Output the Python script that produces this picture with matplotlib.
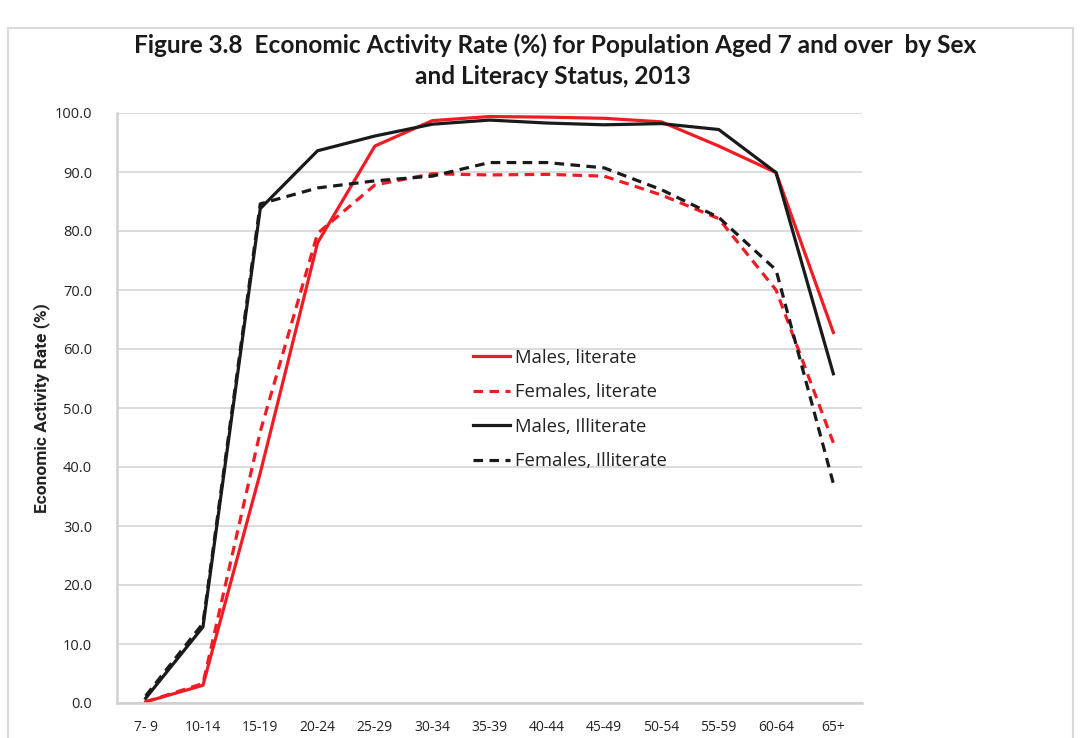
import matplotlib
matplotlib.use("Agg")
import matplotlib.pyplot as plt
from matplotlib.patches import Rectangle

# Age groups and economic activity rates (%)
age_groups = ["7- 9", "10-14", "15-19", "20-24", "25-29", "30-34", "35-39",
              "40-44", "45-49", "50-54", "55-59", "60-64", "65+"]
males_literate = [0.2, 3.0, 39.0, 78.0, 94.4, 98.7, 99.4, 99.3, 99.1, 98.5, 94.4, 89.9, 62.8]
females_literate = [0.2, 3.3, 46.0, 79.6, 87.8, 89.7, 89.5, 89.6, 89.3, 86.1, 82.1, 70.0, 44.1]
males_illiterate = [0.8, 12.9, 83.8, 93.6, 96.1, 98.1, 98.8, 98.3, 98.0, 98.2, 97.2, 89.9, 55.8]
females_illiterate = [1.2, 13.5, 84.6, 87.3, 88.5, 89.3, 91.6, 91.6, 90.7, 87.0, 82.3, 73.4, 37.2]
series_labels = ["Males, literate", "Females, literate", "Males, Illiterate", "Females, Illiterate"]
y_ticks = [0, 10, 20, 30, 40, 50, 60, 70, 80, 90, 100]

RED = "#ee1c25"
BLACK = "#1a1a1a"
GRID = "#d9d9d9"

fig = plt.figure(figsize=(10.83, 7.38), dpi=100)
fig.patch.set_facecolor("white")

# outer chart frame
fig.patches.append(Rectangle((8 / 1083, -0.05), (1073 - 8) / 1083, 1 - 28 / 738 + 0.05,
                             transform=fig.transFigure, fill=False,
                             edgecolor="#d9d9d9", linewidth=1.5))

ax = fig.add_axes([117 / 1083, 1 - 703 / 738, (862 - 117) / 1083, (703 - 113) / 738])
x = list(range(len(age_groups)))
lw = 2.3
ax.plot(x, males_literate, color=RED, lw=lw, label=series_labels[0])
ax.plot(x, females_literate, color=RED, lw=lw, ls=(0, (3, 2)), label=series_labels[1])
ax.plot(x, males_illiterate, color=BLACK, lw=lw, label=series_labels[2])
ax.plot(x, females_illiterate, color=BLACK, lw=lw, ls=(0, (3, 2)), label=series_labels[3])

ax.set_xlim(-0.5, len(age_groups) - 0.5)
ax.set_ylim(0, 100)
ax.set_yticks(y_ticks)
ax.set_yticklabels([f"{v:.1f}" for v in y_ticks], fontsize=10.5, color="#222222",
                   fontfamily=["Open Sans", "DejaVu Sans"])
ax.set_xticks(x)
ax.set_xticklabels(age_groups, fontsize=10, color="#222222",
                   fontfamily=["Open Sans", "DejaVu Sans"])
ax.tick_params(axis="both", length=0)
ax.tick_params(axis="y", pad=18)
ax.tick_params(axis="x", pad=12)
ax.grid(axis="y", color=GRID, lw=1.3)
ax.set_axisbelow(True)
for side in ("top", "right"):
    ax.spines[side].set_visible(False)
for side in ("left", "bottom"):
    ax.spines[side].set_color("#d0d0d0")
    ax.spines[side].set_linewidth(1.8)

fig.text(42 / 1083, 1 - 408 / 738, "Economic Activity Rate (%)", rotation=90,
         ha="center", va="center", fontsize=12.5, fontweight="bold", color="#222222",
         fontfamily=["Liberation Sans Narrow", "Roboto", "DejaVu Sans"])

fig.text(555 / 1083, 1 - 45 / 738, "Figure 3.8  Economic Activity Rate (%) for Population Aged 7 and over  by Sex",
         ha="center", va="center", fontsize=17.6, fontweight="bold", color="#1a1a1a",
         fontfamily=["Lato", "DejaVu Sans"])
fig.text(553 / 1083, 1 - 76 / 738, "and Literacy Status, 2013",
         ha="center", va="center", fontsize=17.6, fontweight="bold", color="#1a1a1a",
         fontfamily=["Lato", "DejaVu Sans"])

leg = ax.legend(loc="upper left", bbox_to_anchor=(456 / 1083, 1 - 332 / 738),
                bbox_transform=fig.transFigure, frameon=False,
                prop={"family": ["Open Sans", "DejaVu Sans"], "size": 13.3},
                handlelength=2.0, handletextpad=0.3, labelspacing=0.9)
for t in leg.get_texts():
    t.set_color("#222222")

fig.savefig("out.png", dpi=100)
